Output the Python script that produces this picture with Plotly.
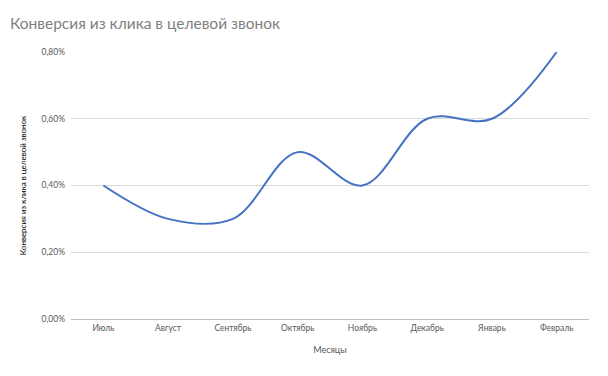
import plotly.graph_objects as go

months = ["Июль", "Август", "Сентябрь", "Октябрь", "Ноябрь", "Декабрь", "Январь", "Февраль"]
conversion = [0.0040, 0.0030, 0.0030, 0.0050, 0.0040, 0.0060, 0.0060, 0.0080]
y_ticks = [0, 0.002, 0.004, 0.006, 0.008]
y_tick_labels = ["0,00%", "0,20%", "0,40%", "0,60%", "0,80%"]

font = "Lato, Open Sans, sans-serif"

fig = go.Figure(go.Scatter(
    x=months, y=conversion, mode="lines",
    line=dict(color="#4472C4", width=2, shape="spline", smoothing=1),
    hoverinfo="skip",
))

fig.update_layout(
    width=600, height=368,
    margin=dict(l=63, r=19, t=44, b=57, autoexpand=False),
    paper_bgcolor="white", plot_bgcolor="white",
    showlegend=False,
    title=dict(text="Конверсия из клика в целевой звонок", x=0.0033, xanchor="left",
               y=0.9565, yanchor="middle", automargin=False,
               font=dict(family=font, size=15.5, color="#7f7f7f")),
    font=dict(family=font, color="#595959"),
)
fig.update_xaxes(
    range=[-0.5, 7.5], automargin=False,
    showgrid=False, showline=True, linecolor="#bfbfbf", linewidth=1,
    ticks="", tickfont=dict(size=8.5, color="#595959"), ticklabelstandoff=1,
    title=dict(text="Месяцы", font=dict(size=9, color="#595959"), standoff=14),
)
fig.update_yaxes(
    range=[0, 0.008], tickvals=y_ticks, ticktext=y_tick_labels, automargin=False,
    showgrid=True, gridcolor="#d9d9d9", gridwidth=1, zeroline=False,
    showline=False, ticks="", tickfont=dict(size=8.5, color="#595959"),
    ticklabelstandoff=5,
    title=dict(text="Конверсия из клика в целевой звонок", font=dict(size=8, color="#000000"), standoff=13),
)

fig.write_html("out.html")
